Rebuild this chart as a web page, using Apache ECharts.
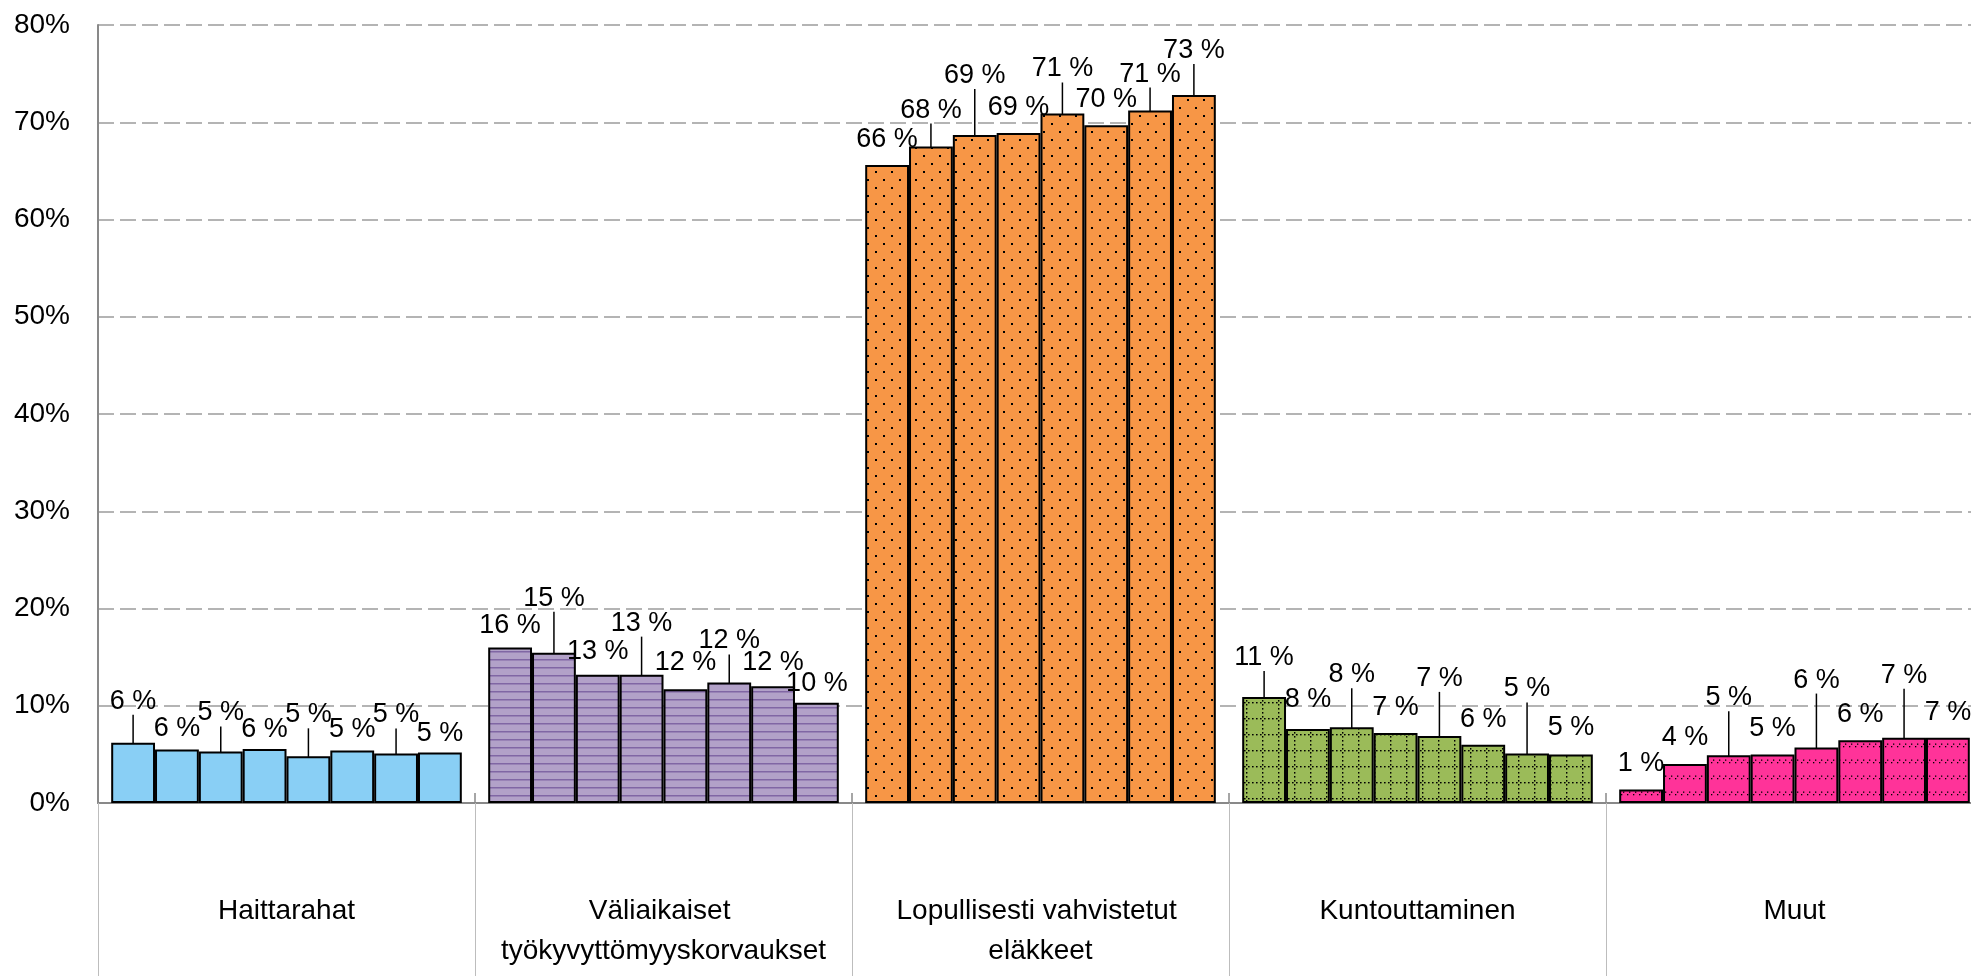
<!DOCTYPE html>
<html>
<head>
<meta charset="utf-8">
<script src="https://cdn.jsdelivr.net/npm/echarts@6/dist/echarts.min.js"></script>
<style>html,body{margin:0;padding:0;background:#fff;overflow:hidden;width:1971px;height:976px;}#c{width:1983px;height:976px;}</style>
</head>
<body>
<div id="c"></div>
<script>
// ---- data ----
const categories = ['Haittarahat', 'Väliaikaiset työkyvyttömyyskorvaukset', 'Lopullisesti vahvistetut eläkkeet', 'Kuntouttaminen', 'Muut'];
const seriesNames = ['Sarja 1', 'Sarja 2', 'Sarja 3', 'Sarja 4', 'Sarja 5', 'Sarja 6', 'Sarja 7', 'Sarja 8'];
const haittarahat    = [6.2, 5.5, 5.3, 5.55, 4.8, 5.4, 5.1, 5.2];
const valiaikaiset   = [16.0, 15.45, 13.2, 13.2, 11.7, 12.4, 12.0, 10.3];
const lopullisesti   = [65.6, 67.5, 68.7, 68.9, 70.9, 69.7, 71.2, 72.8];
const kuntouttaminen = [10.9, 7.6, 7.8, 7.2, 6.9, 6.0, 5.1, 5.0];
const muut           = [1.4, 4.0, 4.9, 5.0, 5.7, 6.45, 6.7, 6.7];
const yTicks = [0, 10, 20, 30, 40, 50, 60, 70, 80];

const groups = [haittarahat, valiaikaiset, lopullisesti, kuntouttaminen, muut];

// ---- label layout (styling, not data) ----
const labelLift = [
  [21, 0, 18, -1, 21, 0, 18, -2],
  [1, 34, 3, 31, 6, 21, 3, -1],
  [5, 16, 39, 5, 24, 5, 16, 24],
  [19, 9, 32, 5, 37, 5, 44, 6],
  [5, 6, 37, 5, 47, 5, 42, 5]
];
const leader = [
  [1, 0, 1, 0, 1, 0, 1, 0],
  [0, 1, 0, 1, 0, 1, 0, 0],
  [0, 1, 1, 0, 1, 0, 1, 1],
  [1, 0, 1, 0, 1, 0, 1, 0],
  [0, 0, 1, 0, 1, 0, 1, 0]
];

// ---- patterns ----
function mk(w, h, draw) {
  const c = document.createElement('canvas');
  c.width = w; c.height = h;
  draw(c.getContext('2d'), w, h);
  return { image: c, repeat: 'repeat' };
}
const fillBlue = '#89CFF5';
const fillPurple = mk(8, 8, (g, w, h) => {
  g.fillStyle = '#B2A1C8'; g.fillRect(0, 0, w, h);
  g.fillStyle = '#8066A4'; g.fillRect(0, 3, w, 1.5);
});
const fillOrange = mk(16, 16, (g, w, h) => {
  g.fillStyle = '#F79646'; g.fillRect(0, 0, w, h);
  g.fillStyle = '#000'; g.fillRect(3, 3, 2, 2); g.fillRect(11, 11, 2, 2);
});
const fillGreen = mk(16, 16, (g, w, h) => {
  g.fillStyle = '#9BBB59'; g.fillRect(0, 0, w, h);
  g.fillStyle = '#000';
  for (let x = 0; x < w; x += 4) g.fillRect(x, 14, 1.6, 1.4);
  for (let y = 0; y < h; y += 4) g.fillRect(14, y, 1.4, 1.6);
});
const fillPink = mk(18, 16, (g, w, h) => {
  g.fillStyle = '#FF3399'; g.fillRect(0, 0, w, h);
  g.fillStyle = '#000';
  for (let x = 0; x < w; x += 6) {
    g.fillRect(x + 1, 10, 1.3, 1.3);
    g.fillRect(x + 3, 7.5, 1.3, 1.3);
  }
});
const fills = [fillBlue, fillPurple, fillOrange, fillGreen, fillPink];

const FONT = '"Liberation Sans", Arial, sans-serif';

const series = seriesNames.map((name, si) => ({
  name: name,
  type: 'bar',
  xAxisIndex: 0,
  barGap: '0%',
  barCategoryGap: '7%',
  data: groups.map((arr, ci) => ({
    value: arr[si],
    itemStyle: { color: fills[ci] },
    labelLine: { show: !!leader[ci][si] }
  })),
  itemStyle: { borderColor: '#000', borderWidth: 2 },
  label: {
    show: true,
    position: 'top',
    distance: 2,
    padding: [0, 0, 5, 0],
    fontSize: 27,
    fontFamily: FONT,
    color: '#000',
    formatter: p => Math.round(p.value) + ' %'
  },
  labelLine: { show: false, lineStyle: { color: '#000', width: 1.5 } },
  labelLayout: function (p) {
    return { dy: -labelLift[p.dataIndex][si] };
  },
  emphasis: { disabled: true }
}));

const chart = echarts.init(document.getElementById('c'), null, { renderer: 'canvas', width: 1983, height: 976 });
chart.setOption({
  animation: false,
  backgroundColor: '#fff',
  grid: { left: 98, right: 0, top: 25, bottom: 173, containLabel: false },
  xAxis: [
    {
      type: 'category',
      data: categories,
      position: 'bottom',
      axisLine: { show: true, lineStyle: { color: '#898989', width: 2 } },
      axisTick: { show: true, inside: true, length: 10, lineStyle: { color: '#898989', width: 1.5 } },
      axisLabel: {
        show: true, margin: 88, fontSize: 28, lineHeight: 40, fontFamily: FONT, color: '#000',
        width: 360, overflow: 'break', interval: 0
      },
      splitLine: { show: false }
    },
    {
      type: 'category',
      data: categories,
      position: 'bottom',
      axisLine: { show: false },
      axisTick: { show: true, inside: false, length: 175, lineStyle: { color: '#BDBDBD', width: 1 } },
      axisLabel: { show: false },
      splitLine: { show: false }
    }
  ],
  yAxis: {
    type: 'value',
    min: yTicks[0],
    max: yTicks[yTicks.length - 1],
    interval: 10,
    axisLine: { show: true, lineStyle: { color: '#898989', width: 2 } },
    axisTick: { show: false },
    axisLabel: { margin: 28, fontSize: 28, fontFamily: FONT, color: '#000', formatter: '{value}%' },
    splitLine: { show: true, lineStyle: { color: '#B4B4B4', width: 2, type: [16, 6] } }
  },
  series: series
});
</script>
</body>
</html>
